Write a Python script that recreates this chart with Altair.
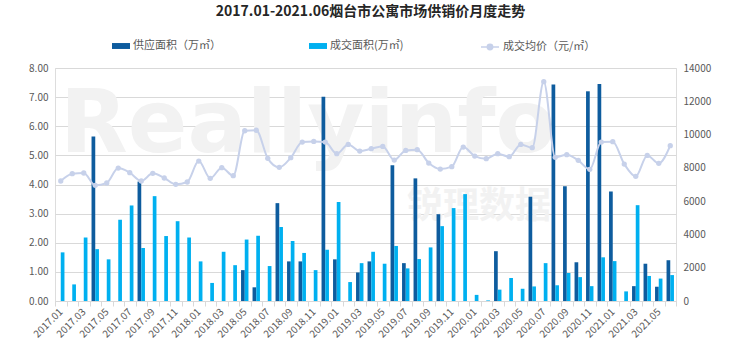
import altair as alt
import pandas as pd

months = [f"{y}.{m:02d}" for y in range(2017, 2022) for m in range(1, 13)][:54]

supply = [0, 0, 0, 5.65, 0, 0, 0, 4.10, 0, 0, 0, 0,
          0, 0, 0, 0, 1.06, 0.47, 0, 3.36, 1.36, 1.36, 0, 7.01,
          1.43, 0, 0.98, 1.36, 0, 4.66, 1.30, 4.21, 0, 2.98, 0, 0,
          0, 0, 1.71, 0, 0, 3.58, 0, 7.43, 3.94, 1.33, 7.20, 7.45,
          3.76, 0, 0.51, 1.28, 0.49, 1.40]

deal = [1.67, 0.57, 2.18, 1.78, 1.43, 2.79, 3.28, 1.82, 3.60, 2.23, 2.74, 2.18,
        1.36, 0.62, 1.69, 1.23, 2.11, 2.24, 1.20, 2.54, 2.06, 1.65, 1.06, 1.76,
        3.40, 0.65, 1.30, 1.69, 1.28, 1.89, 1.12, 1.44, 1.84, 2.57, 3.19, 3.67,
        0.21, 0.02, 0.39, 0.79, 0.42, 0.50, 1.30, 0.54, 0.96, 0.82, 0.51, 1.50,
        1.37, 0.33, 3.29, 0.86, 0.77, 0.89]

price = [7210, 7650, 7690, 6950, 7090, 7990, 7710, 7210, 7670, 7390, 7010, 7150,
         8410, 7370, 8010, 7530, 10230, 10260, 8570, 8030, 8610, 9550, 9590, 9550,
         8850, 9410, 9010, 9150, 9290, 8470, 9050, 9090, 8290, 7930, 8070, 9250,
         8710, 8550, 8850, 8670, 9410, 9210, 13180, 8630, 8790, 8450, 7910, 9550,
         9570, 8230, 7490, 8750, 8270, 9330]

S1 = "供应面积（万㎡）"
S2 = "成交面积(万㎡)"
S3 = "成交均价（元/㎡）"
TITLE = "2017.01-2021.06烟台市公寓市场供销价月度走势"

DARK = "#0E5C9E"
LIGHT = "#00B0F0"
LINE = "#C7D1EA"
GRID = "#D9D9D9"
TXT = "#595959"
FONT = "Noto Sans CJK SC"

bars_df = pd.DataFrame({
    "month": months * 2,
    "series": [S1] * len(months) + [S2] * len(months),
    "value": supply + deal,
})
price_df = pd.DataFrame({"month": months, "price": price, "series": [S3] * len(months)})
wm_df = pd.DataFrame({"t": ["Reallyinfo"]})
wm2_df = pd.DataFrame({"t": ["锐理数据"]})

x_enc = alt.X(
    "month:N", sort=months,
    scale=alt.Scale(paddingInner=0, paddingOuter=0),
    axis=alt.Axis(
        title=None, orient="bottom", labelAngle=-45, labelAlign="right", labelBaseline="middle",
        labelExpr="isString(datum.value) && toNumber(slice(datum.value, 5)) % 2 == 1 ? datum.label : ''",
        labelOverlap=False, tickBand="extent", grid=False,
        domainColor=GRID, tickColor=GRID, tickSize=5,
        labelColor=TXT, labelFontSize=10, labelFont=FONT, labelPadding=4,
    ),
)

wm = alt.Chart(wm_df).mark_text(
    fontSize=88, font="DejaVu Sans", fontWeight="bold", color="#F2F2F2",
    align="left", baseline="alphabetic",
).encode(x=alt.value(5), y=alt.value(84), text="t:N")

wm2 = alt.Chart(wm2_df).mark_text(
    fontSize=36, font=FONT, fontWeight="bold", color="#F2F2F2",
    align="left", baseline="alphabetic",
).encode(x=alt.value(352), y=alt.value(150), text="t:N")

bars = alt.Chart(bars_df).mark_bar().encode(
    x=x_enc,
    xOffset=alt.XOffset("series:N", sort=[S1, S2],
                        scale=alt.Scale(paddingOuter=0.55, paddingInner=0)),
    y=alt.Y("value:Q", scale=alt.Scale(domain=[0, 8]),
            axis=alt.Axis(title=None, format=".2f", values=list(range(0, 9)),
                          grid=True, gridColor=GRID, domain=False, ticks=False,
                          labelColor=TXT, labelFontSize=10, labelFont=FONT,
                          labelPadding=7)),
    fill=alt.Fill("series:N", sort=[S1, S2],
                  scale=alt.Scale(domain=[S1, S2], range=[DARK, LIGHT]),
                  legend=alt.Legend(
                      title=None, orient="none", legendX=57, legendY=-31,
                      direction="horizontal", columnPadding=88,
                      symbolType="M-1,-0.33H1V0.33H-1Z", symbolSize=324,
                      symbolStrokeWidth=0, labelFontSize=11, labelFont=FONT,
                      labelColor=TXT, labelOffset=3)),
)

line = alt.Chart(price_df).mark_line(
    interpolate="monotone", strokeWidth=2,
).encode(
    x=x_enc,
    y=alt.Y("price:Q", scale=alt.Scale(domain=[0, 14000]),
            axis=alt.Axis(title=None, orient="right", values=list(range(0, 14001, 2000)),
                          format="d",
                          grid=False, domain=False, ticks=False,
                          labelColor=TXT, labelFontSize=10, labelFont=FONT,
                          labelPadding=7)),
    stroke=alt.Stroke("series:N",
                      scale=alt.Scale(domain=[S3], range=[LINE]),
                      legend=alt.Legend(
                          title=None, orient="none", legendX=425, legendY=-31,
                          symbolType="M-1,0H-0.3M0.3,0H1M-0.3,0A0.3,0.3 0 1,0 0.3,0A0.3,0.3 0 1,0 -0.3,0Z",
                          symbolSize=324, symbolStrokeWidth=1.5,
                          symbolFillColor=LINE,
                          labelFontSize=11, labelFont=FONT,
                          labelColor=TXT, labelOffset=3)),
)

pts = alt.Chart(price_df).mark_circle(size=28, color=LINE, opacity=1).encode(
    x=x_enc,
    y=alt.Y("price:Q", scale=alt.Scale(domain=[0, 14000]), axis=None),
)

chart = alt.layer(wm, wm2, bars, line, pts).resolve_scale(
    y="independent"
).properties(
    width=621, height=233,
    title=alt.TitleParams(TITLE, anchor="middle", fontSize=14, fontWeight="bold",
                          font=FONT, color="#262626", offset=18, dx=5),
    autosize=alt.AutoSizeParams(type="none"),
    padding={"left": 55, "top": 68, "right": 64, "bottom": 61},
).configure_view(stroke=None).configure(background="white")

chart.save("out.html", embed_options={"renderer": "svg", "actions": False})
